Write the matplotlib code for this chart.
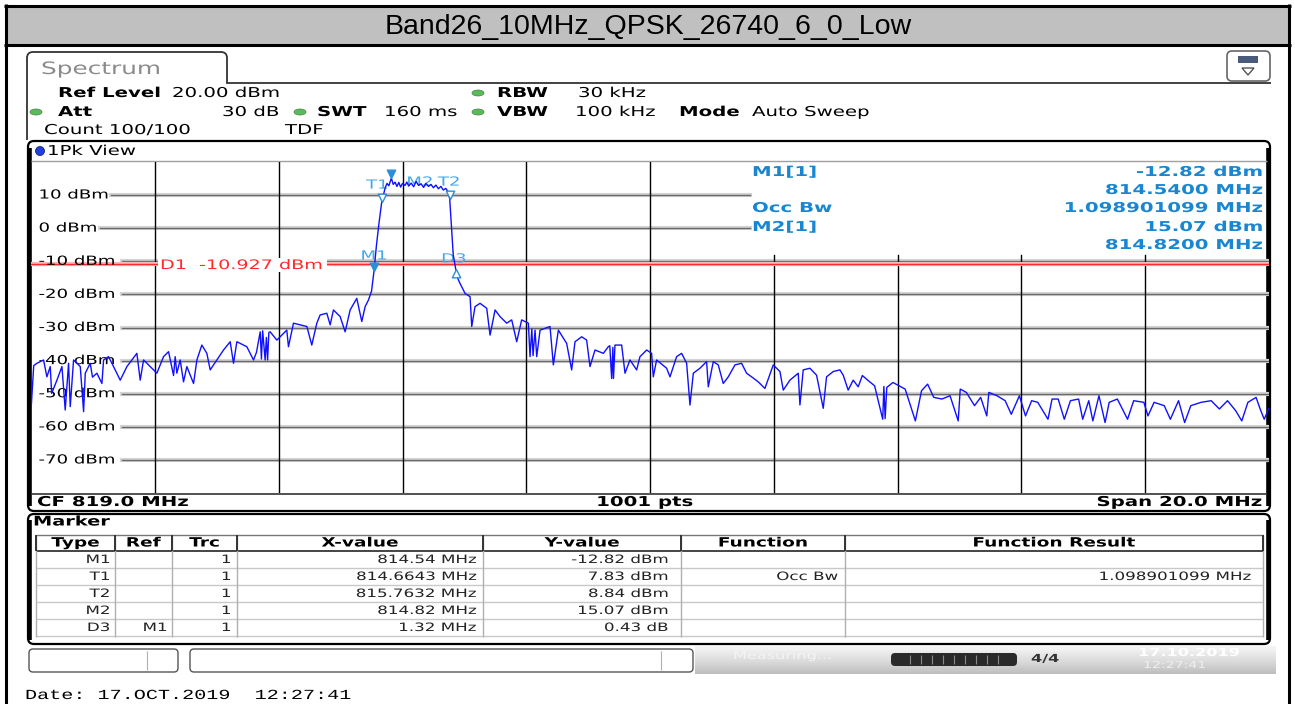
import matplotlib.pyplot as plt
from matplotlib.patches import FancyBboxPatch, Rectangle, Ellipse, PathPatch, Polygon
from matplotlib.path import Path
from matplotlib.patheffects import AbstractPathEffect
from matplotlib.transforms import Affine2D
import numpy as np

W, H = 1295, 704

title = "Band26_10MHz_QPSK_26740_6_0_Low"

# настройки анализатора
f_start, f_stop = 809.0, 829.0
ref_level, bottom_level = 20.0, -80.0
n_points = 1001
grid_levels = [10, 0, -10, -20, -30, -40, -50, -60, -70]
d1_level = -10.927

trace_freq = [
    809.000, 809.040, 809.092, 809.199, 809.253, 809.307, 809.415, 809.496, 809.549, 809.603,
    809.630, 809.684, 809.792, 809.846, 809.873, 809.953, 810.061, 810.142, 810.169, 810.249,
    810.330, 810.438, 810.546, 810.707, 810.761, 810.815, 810.923, 811.030, 811.138, 811.219,
    811.326, 811.353, 811.407, 811.461, 811.515, 811.623, 811.677, 811.757, 811.838, 811.892,
    812.000, 812.107, 812.215, 812.269, 812.323, 812.484, 812.592, 812.700, 812.780, 812.861,
    812.969, 813.130, 813.157, 813.238, 813.346, 813.454, 813.534, 813.615, 813.669, 813.777,
    813.831, 813.884, 813.992, 814.073, 814.154, 814.261, 814.342, 814.396, 814.450, 814.500,
    814.540, 814.580, 814.620, 814.664, 814.692, 814.720, 814.750, 814.780, 814.800, 814.820,
    814.850, 814.880, 814.910, 814.940, 814.970, 815.000, 815.040, 815.070, 815.100, 815.140,
    815.180, 815.220, 815.260, 815.300, 815.340, 815.380, 815.420, 815.460, 815.500, 815.540,
    815.580, 815.620, 815.660, 815.700, 815.740, 815.763, 815.790, 815.820, 815.860, 815.900,
    815.930, 816.011, 816.092, 816.119, 816.172, 816.253, 816.361, 816.415, 816.496, 816.576,
    816.684, 816.765, 816.846, 816.926, 817.034, 817.061, 817.142, 817.169, 817.223, 817.384,
    817.438, 817.519, 817.653, 817.734, 817.788, 817.896, 817.976, 818.030, 818.111, 818.246,
    818.326, 818.380, 818.434, 818.542, 818.596, 818.676, 818.784, 818.838, 818.946, 819.026,
    819.053, 819.107, 819.269, 819.323, 819.430, 819.511, 819.592, 819.646, 819.700, 819.807,
    819.915, 819.942, 820.023, 820.103, 820.184, 820.265, 820.373, 820.480, 820.561, 820.642,
    820.749, 820.857, 820.992, 821.100, 821.154, 821.261, 821.396, 821.423, 821.476, 821.584,
    821.692, 821.746, 821.800, 821.853, 821.961, 822.069, 822.123, 822.203, 822.284, 822.365,
    822.432, 822.531, 822.630, 822.761, 822.827, 822.926, 823.025, 823.124, 823.289, 823.388,
    823.487, 823.586, 823.718, 823.849, 823.981, 824.014, 824.113, 824.245, 824.344, 824.443,
    824.476, 824.608, 824.740, 824.839, 824.970, 825.069, 825.168, 825.267, 825.432, 825.498,
    825.597, 825.696, 825.795, 825.927, 825.993, 826.091, 826.157, 826.256, 826.355, 826.421,
    826.553, 826.718, 826.817, 826.982, 827.048, 827.147, 827.311, 827.410, 827.542, 827.641,
    827.740, 827.905, 828.070, 828.202, 828.333, 828.465, 828.564, 828.663, 828.795, 828.861,
    828.927, 829.000,
]
trace_level = [
    -53.9, -41.5, -40.8, -39.8, -44.9, -41.8, -45.9, -41.8, -54.9, -40.8,
    -53.9, -39.8, -41.8, -55.4, -43.8, -40.8, -43.8, -46.9, -39.8, -38.8,
    -41.8, -45.9, -41.8, -37.8, -45.9, -39.8, -41.8, -43.8, -38.8, -37.3,
    -38.8, -43.8, -39.8, -46.4, -41.8, -46.9, -39.8, -35.3, -37.8, -42.8,
    -39.8, -36.8, -34.3, -40.8, -34.3, -35.8, -39.8, -31.3, -39.8, -31.3,
    -33.8, -30.8, -35.8, -28.7, -29.2, -29.7, -35.3, -28.7, -26.2, -25.7,
    -29.2, -24.7, -26.7, -31.3, -24.7, -21.2, -28.2, -23.7, -21.7, -19.0,
    -12.82, -5.0, 1.5, 7.83, 10.0, 12.2, 13.5, 12.8, 14.0, 15.07,
    13.2, 13.9, 12.6, 13.8, 12.4, 13.5, 12.9, 13.9, 12.7, 13.6,
    12.5, 14.1, 12.9, 13.4, 12.3, 13.5, 12.6, 13.2, 12.2, 13.0,
    11.9, 12.6, 11.5, 12.0, 10.9, 8.84, 1.0, -8.0, -12.39, -15.5,
    -16.7, -19.7, -20.7, -29.7, -23.7, -22.7, -24.2, -32.3, -24.7, -26.7,
    -28.7, -27.7, -34.3, -27.7, -28.7, -38.8, -30.8, -38.8, -30.8, -29.7,
    -41.3, -30.8, -34.8, -42.8, -34.3, -32.8, -33.8, -41.8, -36.8, -37.8,
    -35.8, -45.4, -35.3, -35.3, -43.8, -39.8, -42.8, -38.8, -36.8, -37.8,
    -44.9, -39.8, -42.3, -44.9, -38.8, -37.8, -40.8, -53.4, -43.8, -42.3,
    -40.3, -47.9, -40.3, -41.3, -46.9, -44.9, -41.3, -40.8, -43.8, -44.9,
    -46.4, -48.4, -41.3, -43.3, -48.9, -45.9, -43.8, -53.4, -42.8, -42.3,
    -44.4, -49.4, -54.4, -44.9, -43.3, -42.8, -44.4, -48.9, -45.9, -47.9,
    -44.5, -46.1, -47.6, -57.7, -48.1, -46.6, -47.6, -48.6, -58.2, -49.1,
    -47.1, -51.1, -51.6, -50.6, -58.2, -48.6, -49.6, -53.6, -51.1, -56.7,
    -49.6, -50.6, -52.1, -56.2, -50.6, -56.7, -52.1, -52.6, -57.7, -51.6,
    -51.6, -57.7, -52.1, -51.6, -57.7, -52.1, -58.2, -50.6, -58.7, -52.6,
    -51.6, -57.7, -52.1, -52.6, -56.7, -52.6, -53.6, -57.7, -52.1, -58.7,
    -53.6, -52.6, -52.1, -54.6, -52.1, -55.1, -58.2, -52.6, -51.1, -54.6,
    -57.7, -54.5,
]
# ещё несколько узких провалов, видимых на экране
extra_freq = [809.330, 809.990, 811.300, 812.640, 812.720, 812.740, 812.800, 812.820, 812.840,
              817.090, 817.110, 818.350, 818.400, 818.410, 822.780, 822.800]
extra_level = [-49.9, -45.0, -44.5, -37.5, -39.5, -31.0, -33.0, -39.8, -31.5,
               -30.5, -38.5, -35.5, -36.0, -45.4, -47.8, -57.5]

# маркеры
mk_names = ["M1", "T1", "T2", "M2"]
mk_freq = [814.54, 814.6643, 815.7632, 814.82]
mk_level = [-12.82, 7.83, 8.84, 15.07]
d3_df, d3_dl = 1.32, 0.43  # дельта относительно M1

# таблица маркеров
tbl_type = ["M1", "T1", "T2", "M2", "D3"]
tbl_ref = ["", "", "", "", "M1"]
tbl_trc = ["1", "1", "1", "1", "1"]
tbl_x = ["814.54 MHz", "814.6643 MHz", "815.7632 MHz", "814.82 MHz", "1.32 MHz"]
tbl_y = ["-12.82 dBm", "7.83 dBm", "8.84 dBm", "15.07 dBm", "0.43 dB"]
tbl_func = ["", "Occ Bw", "", "", ""]
tbl_res = ["", "1.098901099 MHz", "", "", ""]
occ_bw = "1.098901099 MHz"


# шрифт на экране анализатора растянут по горизонтали
class Wide(AbstractPathEffect):
    def __init__(self, sx=1.45, ha="left"):
        super().__init__()
        self.sx = sx
        self.ha = ha

    def draw_path(self, renderer, gc, tpath, affine, rgbFace=None):
        ext = tpath.get_extents(affine)
        if self.ha == "right":
            x0 = ext.x1
        elif self.ha == "center":
            x0 = (ext.x0 + ext.x1) / 2
        else:
            x0 = affine.get_matrix()[0, 2]
        tr = affine + Affine2D().translate(-x0, 0).scale(self.sx, 1).translate(x0, 0)
        renderer.draw_path(gc, tpath, tr, rgbFace)


fig = plt.figure(figsize=(W / 100, H / 100), dpi=100)
bg = fig.add_axes([0, 0, 1, 1])
bg.set_xlim(0, W)
bg.set_ylim(H, 0)
bg.set_autoscale_on(False)
bg.axis("off")


def txt(x, y, s, size=9.8, bold=False, color="black", ha="left", family="DejaVu Sans", ax=None, z=5):
    a = bg if ax is None else ax
    return a.text(x, y, s, fontsize=size, fontweight="bold" if bold else "normal",
                  color=color, ha=ha, va="center", family=family, zorder=z,
                  path_effects=[Wide(1.45, ha)])


def hline(y, x0, x1, c="black", lw=1.0, z=2):
    bg.plot([x0, x1], [y, y], color=c, lw=lw, zorder=z, solid_capstyle="butt")


def vline(x, y0, y1, c="black", lw=1.0, z=2):
    bg.plot([x, x], [y0, y1], color=c, lw=lw, zorder=z, solid_capstyle="butt")


def dot(x, y, c="#5cb85c", ec="#3c8c3c", w=12, h=6):
    bg.add_patch(Ellipse((x, y), w, h, fc=c, ec=ec, lw=0.5, zorder=3))


# рамка и заголовок
bg.add_patch(Rectangle((6, 6), 1283, 39, fc="#c0c0c0", ec="none", zorder=1))
hline(6, 4, 1291, lw=2.2)
hline(45, 4, 1291, lw=2.2)
vline(6, 4, H, lw=2.2)
vline(1289, 4, H, lw=2.2)
bg.text(648, 27, title, fontsize=20.5, family="Liberation Sans", ha="center", va="center")

# вкладка Spectrum
tab = Path([(27, 140), (27, 58), (27, 52), (33, 52), (221, 52), (227, 52), (227, 58), (227, 83), (1271, 83)],
           [Path.MOVETO, Path.LINETO, Path.CURVE3, Path.CURVE3, Path.LINETO,
            Path.CURVE3, Path.CURVE3, Path.LINETO, Path.LINETO])
bg.add_patch(PathPatch(tab, fill=False, ec="#333333", lw=1.3, zorder=2))
txt(41, 69, "Spectrum", size=12.3, color="#8a8a8a")
bg.add_patch(FancyBboxPatch((1227, 51), 43, 30, boxstyle="round,pad=0,rounding_size=5",
                            fc="white", ec="#666666", lw=1.2, zorder=3))
bg.add_patch(Rectangle((1238, 56), 20, 7, fc="#4a5a7a", ec="none", zorder=4))
bg.add_patch(Polygon([(1242, 68), (1254, 68), (1248, 75)], closed=True, fill=False,
                     ec="#555555", lw=1, zorder=4))

# строки настроек
txt(58, 93, "Ref Level", bold=True)
txt(172, 93, "20.00 dBm")
dot(478, 93)
txt(497, 93, "RBW", bold=True)
txt(578, 93, "30 kHz")
dot(36, 112)
txt(58, 112, "Att", bold=True)
txt(279, 112, "30 dB", ha="right")
dot(300, 112)
txt(317, 112, "SWT", bold=True)
txt(384, 112, "160 ms")
dot(478, 112)
txt(497, 112, "VBW", bold=True)
txt(575, 112, "100 kHz")
txt(679, 112, "Mode", bold=True)
txt(752, 112, "Auto Sweep")
txt(44, 130, "Count 100/100")
txt(285, 130, "TDF")

# окно трассы
bg.add_patch(FancyBboxPatch((28, 141), 1242, 370, boxstyle="round,pad=0,rounding_size=6",
                            fc="white", ec="black", lw=1.6, zorder=1))
vline(29.8, 148, 506, lw=2.6)
vline(1267.5, 148, 506, lw=2.6)
hline(161, 31, 1267, c="#a0a0a0", lw=1.0)
hline(493.5, 31, 1267, c="#333333", lw=1.2)
dot(40, 151, c="#1f3fe0", ec="#101050", w=9, h=9)
txt(47, 151, "1Pk View")
center_freq = (f_start + f_stop) / 2
span = f_stop - f_start
txt(37, 502, f"CF {center_freq:.1f} MHz", bold=True)
txt(645, 502, f"{n_points} pts", bold=True, ha="center")
txt(1262, 502, f"Span {span:.1f} MHz", bold=True, ha="right")

# информация по маркерам справа
mcol = "#1a86d0"
txt(752, 172, "M1[1]", bold=True, color=mcol)
txt(1263, 172, f"{mk_level[0]:.2f} dBm", bold=True, color=mcol, ha="right")
txt(1263, 190, f"{mk_freq[0]:.4f} MHz", bold=True, color=mcol, ha="right")
txt(752, 208, "Occ Bw", bold=True, color=mcol)
txt(1263, 208, occ_bw, bold=True, color=mcol, ha="right")
txt(752, 227, "M2[1]", bold=True, color=mcol)
txt(1263, 227, f"{mk_level[3]:.2f} dBm", bold=True, color=mcol, ha="right")
txt(1263, 245, f"{mk_freq[3]:.4f} MHz", bold=True, color=mcol, ha="right")

# оси спектра
x0_px, x1_px, y0_px, y1_px = 31.25, 1268.75, 161.9, 493.1
ax = fig.add_axes([x0_px / W, 1 - y1_px / H, (x1_px - x0_px) / W, (y1_px - y0_px) / H])
ax.set_xlim(f_start, f_stop)
ax.set_ylim(bottom_level, ref_level)
ax.axis("off")


def px_f(x):
    return f_start + (x - x0_px) / (x1_px - x0_px) * (f_stop - f_start)


# сетка
for lev in grid_levels:
    lbl = f"{lev} dBm"
    txt(px_f(38.5), lev, lbl, size=9, ax=ax, z=3)
    start = px_f(44 + 11.2 * len(lbl))
    end = px_f(750) if lev >= 0 else f_stop
    ax.plot([start, end], [lev, lev], color="#d4d4d4", lw=3.0, zorder=1)
    ax.plot([start, end], [lev, lev], color="#6a6a6a", lw=1.0, zorder=1.2)
for f in np.arange(f_start + 2, f_stop, 2):
    top = ref_level if f <= center_freq else -8.1
    ax.plot([f, f], [bottom_level, top], color="black", lw=1.0, zorder=1.5)

# линия D1
ax.plot([f_start, f_stop], [d1_level, d1_level], color="#f6b8b8", lw=3.0, zorder=2)
ax.plot([f_start, f_stop], [d1_level, d1_level], color="#ff2a2a", lw=1.0, zorder=2.1)
ax.add_patch(Rectangle((px_f(158), -13.3), px_f(327) - px_f(158), 4.3, fc="white", ec="none", zorder=2.5))
txt(px_f(160), -11.3, f"D1  {d1_level:.3f} dBm", size=9.5, color="#ff2a2a", ax=ax, z=3)

# трасса
pts = sorted(zip(trace_freq + extra_freq, trace_level + extra_level))
ax.plot([p[0] for p in pts], [p[1] for p in pts], color="#1010ff", lw=1.0, zorder=4)

# маркеры: треугольник вершиной в точку
tri_down = [(0, 0), (-0.5, 1), (0.5, 1), (0, 0)]
tri_up = [(0, 0), (-0.5, -1), (0.5, -1), (0, 0)]
tcol = "#2a8fd8"
lcol = "#45a6e8"
for name, f, lev in zip(mk_names, mk_freq, mk_level):
    filled = name.startswith("M")
    ax.plot(f, lev, marker=tri_down, ms=12, mfc=tcol if filled else "white", mec=tcol,
            mew=1.0, ls="none", zorder=5)
d3_f, d3_l = mk_freq[0] + d3_df, mk_level[0] + d3_dl
ax.plot(d3_f, d3_l, marker=tri_up, ms=12, mfc="white", mec=tcol, mew=1.0, ls="none", zorder=5)
txt(mk_freq[0], -8.4, "M1", size=9, color=lcol, ha="center", ax=ax, z=3)
txt(814.59, 13.0, "T1", size=9, color=lcol, ha="center", ax=ax, z=3)
txt(815.28, 13.9, "M2", size=9, color=lcol, ha="center", ax=ax, z=3)
txt(815.75, 13.9, "T2", size=9, color=lcol, ha="center", ax=ax, z=3)
txt(d3_f - 0.03, -9.3, "D3", size=9, color=lcol, ha="center", ax=ax, z=3)

# таблица маркеров
bg.add_patch(FancyBboxPatch((28, 514), 1242, 130, boxstyle="round,pad=0,rounding_size=6",
                            fc="white", ec="black", lw=1.6, zorder=1))
vline(29.8, 520, 640, lw=2.6)
vline(1267.5, 520, 640, lw=2.6)
txt(33, 522, "Marker", bold=True, size=9.6)
cols = [36, 115, 172, 237, 483, 681, 845, 1263]
heads = ["Type", "Ref", "Trc", "X-value", "Y-value", "Function", "Function Result"]
hline(534.5, 36, 1263, c="#777777", lw=1.0)
hline(551, 36, 1263, c="#444444", lw=1.4)
for k in range(1, 6):
    hline(551 + 17 * k, 36, 1263, c="#c8c8c8", lw=1.0)
for c in cols:
    vline(c, 535, 637, c="#b0b0b0", lw=1.0)
    vline(c, 535, 551, c="#333333", lw=1.4)
for i, h in enumerate(heads):
    txt((cols[i] + cols[i + 1]) / 2, 543, h, bold=True, size=9.2, ha="center")
rights = [110, 167, 231, 476, 668, 838, 1250]
for r in range(5):
    yy = 559.5 + 17 * r
    row = [tbl_type[r], tbl_ref[r], tbl_trc[r], tbl_x[r], tbl_y[r], tbl_func[r], tbl_res[r]]
    for xr, s in zip(rights, row):
        if s:
            txt(xr, yy, s, size=8.3, ha="right", color="#222222")

# строка состояния
bg.add_patch(FancyBboxPatch((29, 649), 149, 23, boxstyle="round,pad=0,rounding_size=4",
                            fc="white", ec="#555555", lw=1.0, zorder=2))
vline(147, 651, 670, c="#b0b0b0", lw=0.8, z=3)
bg.add_patch(FancyBboxPatch((190, 649), 503, 23, boxstyle="round,pad=0,rounding_size=4",
                            fc="white", ec="#555555", lw=1.0, zorder=2))
vline(661, 651, 670, c="#b0b0b0", lw=0.8, z=3)
grad = np.linspace(0, 1, 30)[:, None] * np.ones((1, 200))
bg.imshow(grad, extent=[695, 1276, 674, 646], cmap="Greys", vmin=-0.3, vmax=3.2,
          aspect="auto", zorder=1)
txt(733, 656, "Measuring...", size=8, color="#f4f4f4")
bg.add_patch(FancyBboxPatch((891, 653), 126, 13, boxstyle="round,pad=0,rounding_size=4",
                            fc="#2a2a2a", ec="none", zorder=3))
for xb in np.arange(910, 1005, 11):
    vline(xb, 655, 664, c="#8a8a8a", lw=0.8, z=4)
txt(1031, 659, "4/4", size=8, bold=True, color="#333333")
txt(1138, 653, "17.10.2019", size=8, bold=True, color="white")
txt(1143, 665, "12:27:41", size=7, color="#f0f0f0")

txt(25, 695, "Date: 17.OCT.2019  12:27:41", size=10, family="Liberation Mono")

bg.set_xlim(0, W)
bg.set_ylim(H, 0)
plt.savefig("out.png", dpi=100)
